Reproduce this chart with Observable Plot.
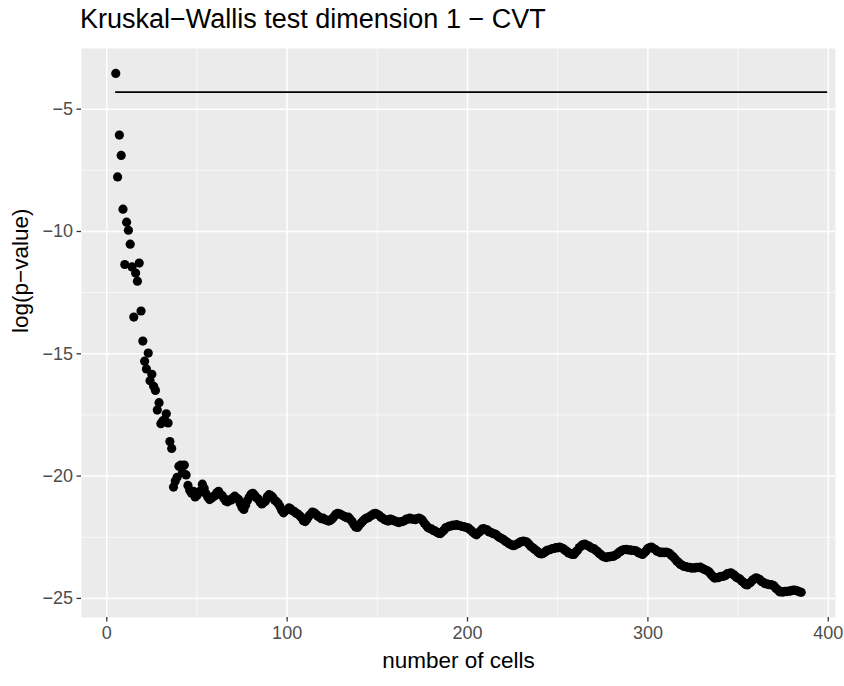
<!DOCTYPE html>
<html>
<head>
<meta charset="utf-8">
<script src="https://cdn.jsdelivr.net/npm/d3@7"></script>
<script src="https://cdn.jsdelivr.net/npm/@observablehq/plot@0.6"></script>
<style>
  html, body { margin: 0; padding: 0; background: #ffffff; }
  #title { height: 40px; box-sizing: border-box; padding-left: 80px; padding-top: 4px;
           font-family: "Liberation Sans", Arial, sans-serif; font-size: 27px; color: #000; line-height: 31px; white-space: nowrap; }
  #chart svg { display: block; }
</style>
</head>
<body>
<div id="title"></div>
<div id="chart"></div>
<script>
const titleText = "Kruskal−Wallis test dimension 1 − CVT";
const xLabel = "number of cells";
const yLabel = "log(p−value)";

const cells = [
  5, 6, 7, 8, 9, 10, 11, 12, 13, 14,
  15, 16, 17, 18, 19, 20, 21, 22, 23, 24,
  25, 26, 27, 28, 29, 30, 31, 32, 33, 34,
  35, 36, 37, 38, 39, 40, 41, 42, 43, 44,
  45, 46, 47, 48, 49, 50, 51, 52, 53, 54,
  55, 56, 57, 58, 59, 60, 61, 62, 63, 64,
  65, 66, 67, 68, 69, 70, 71, 72, 73, 74,
  75, 76, 77, 78, 79, 80, 81, 82, 83, 84,
  85, 86, 87, 88, 89, 90, 91, 92, 93, 94,
  95, 96, 97, 98, 99, 100, 101, 102, 103, 104,
  105, 106, 107, 108, 109, 110, 111, 112, 113, 114,
  115, 116, 117, 118, 119, 120, 121, 122, 123, 124,
  125, 126, 127, 128, 129, 130, 131, 132, 133, 134,
  135, 136, 137, 138, 139, 140, 141, 142, 143, 144,
  145, 146, 147, 148, 149, 150, 151, 152, 153, 154,
  155, 156, 157, 158, 159, 160, 161, 162, 163, 164,
  165, 166, 167, 168, 169, 170, 171, 172, 173, 174,
  175, 176, 177, 178, 179, 180, 181, 182, 183, 184,
  185, 186, 187, 188, 189, 190, 191, 192, 193, 194,
  195, 196, 197, 198, 199, 200, 201, 202, 203, 204,
  205, 206, 207, 208, 209, 210, 211, 212, 213, 214,
  215, 216, 217, 218, 219, 220, 221, 222, 223, 224,
  225, 226, 227, 228, 229, 230, 231, 232, 233, 234,
  235, 236, 237, 238, 239, 240, 241, 242, 243, 244,
  245, 246, 247, 248, 249, 250, 251, 252, 253, 254,
  255, 256, 257, 258, 259, 260, 261, 262, 263, 264,
  265, 266, 267, 268, 269, 270, 271, 272, 273, 274,
  275, 276, 277, 278, 279, 280, 281, 282, 283, 284,
  285, 286, 287, 288, 289, 290, 291, 292, 293, 294,
  295, 296, 297, 298, 299, 300, 301, 302, 303, 304,
  305, 306, 307, 308, 309, 310, 311, 312, 313, 314,
  315, 316, 317, 318, 319, 320, 321, 322, 323, 324,
  325, 326, 327, 328, 329, 330, 331, 332, 333, 334,
  335, 336, 337, 338, 339, 340, 341, 342, 343, 344,
  345, 346, 347, 348, 349, 350, 351, 352, 353, 354,
  355, 356, 357, 358, 359, 360, 361, 362, 363, 364,
  365, 366, 367, 368, 369, 370, 371, 372, 373, 374,
  375, 376, 377, 378, 379, 380, 381, 382, 383, 384,
  385
];

const logP = [
  -3.54, -7.77, -6.06, -6.89, -9.09, -11.35, -9.62, -9.95, -10.52, -11.45,
  -13.5, -11.7, -12.03, -11.29, -13.25, -14.48, -15.3, -15.62, -14.97, -16.1,
  -15.84, -16.33, -16.5, -17.3, -17.0, -17.86, -17.75, -17.7, -17.45, -17.83,
  -18.59, -18.87, -20.45, -20.2, -20.05, -19.6, -19.55, -19.85, -19.55, -19.95,
  -20.38, -20.58, -20.7, -20.62, -20.85, -20.79, -20.68, -20.6, -20.33, -20.5,
  -20.72, -20.85, -20.96, -20.9, -20.84, -20.8, -20.68, -20.62, -20.74, -20.8,
  -20.92, -21.02, -21.05, -20.97, -20.98, -20.88, -20.82, -20.9, -20.95, -21.12,
  -21.28, -21.36, -21.18, -21.0, -20.86, -20.74, -20.7, -20.78, -20.88, -20.94,
  -21.06, -21.14, -21.08, -21.02, -20.84, -20.76, -20.8, -20.86, -20.98, -21.04,
  -21.12, -21.24, -21.4, -21.5, -21.42, -21.38, -21.3, -21.34, -21.42, -21.45,
  -21.52, -21.55, -21.62, -21.7, -21.82, -21.86, -21.76, -21.64, -21.56, -21.47,
  -21.5, -21.56, -21.64, -21.68, -21.74, -21.72, -21.78, -21.8, -21.84, -21.8,
  -21.74, -21.66, -21.56, -21.52, -21.54, -21.58, -21.62, -21.66, -21.7, -21.68,
  -21.76, -21.86, -21.98, -22.08, -22.1, -22.0, -21.92, -21.84, -21.76, -21.72,
  -21.7, -21.64, -21.6, -21.54, -21.52, -21.56, -21.6, -21.68, -21.72, -21.78,
  -21.8, -21.84, -21.76, -21.77, -21.82, -21.84, -21.88, -21.9, -21.86, -21.86,
  -21.82, -21.76, -21.76, -21.72, -21.75, -21.76, -21.78, -21.74, -21.72, -21.75,
  -21.8, -21.92, -22.0, -22.1, -22.14, -22.16, -22.22, -22.24, -22.3, -22.34,
  -22.35, -22.27, -22.2, -22.1, -22.08, -22.04, -22.04, -22.0, -22.02, -21.98,
  -22.02, -22.03, -22.06, -22.06, -22.1, -22.1, -22.16, -22.22, -22.3, -22.36,
  -22.4, -22.32, -22.26, -22.17, -22.15, -22.19, -22.2, -22.28, -22.3, -22.35,
  -22.36, -22.4, -22.47, -22.52, -22.55, -22.6, -22.66, -22.7, -22.76, -22.8,
  -22.84, -22.84, -22.79, -22.76, -22.7, -22.68, -22.66, -22.68, -22.7, -22.78,
  -22.87, -22.92, -22.98, -23.03, -23.1, -23.16, -23.18, -23.15, -23.1, -23.04,
  -23.02, -23.0, -22.96, -22.96, -22.92, -22.93, -22.9, -22.93, -22.96, -23.03,
  -23.07, -23.14, -23.16, -23.2, -23.2, -23.1, -23.03, -22.92, -22.86, -22.8,
  -22.78, -22.83, -22.85, -22.9, -22.95, -22.96, -23.03, -23.08, -23.16, -23.21,
  -23.28, -23.31, -23.33, -23.29, -23.3, -23.27, -23.28, -23.23, -23.18, -23.11,
  -23.07, -23.02, -23.0, -22.99, -23.02, -23.01, -23.04, -23.04, -23.05, -23.08,
  -23.14, -23.16, -23.2, -23.13, -23.06, -22.96, -22.92, -22.9, -22.96, -22.99,
  -23.07, -23.09, -23.13, -23.11, -23.13, -23.11, -23.13, -23.16, -23.24, -23.3,
  -23.38, -23.47, -23.53, -23.61, -23.64, -23.69, -23.7, -23.73, -23.73, -23.76,
  -23.75, -23.76, -23.73, -23.74, -23.72, -23.77, -23.8, -23.84, -23.87, -23.92,
  -24.02, -24.1, -24.17, -24.15, -24.15, -24.11, -24.1, -24.09, -24.06, -23.99,
  -23.98, -23.95, -24.01, -24.05, -24.13, -24.17, -24.21, -24.29, -24.34, -24.42,
  -24.45, -24.39, -24.34, -24.25, -24.21, -24.16, -24.19, -24.23, -24.31, -24.34,
  -24.4, -24.4, -24.44, -24.43, -24.46, -24.49, -24.59, -24.65, -24.73, -24.73,
  -24.74, -24.71, -24.72, -24.7, -24.7, -24.67, -24.66, -24.67, -24.7, -24.73,
  -24.75
];

// horizontal reference line
const refLineY = -4.3;
const refLineX = [5, 399];

const xTicks = [0, 100, 200, 300, 400];
const xMinor = [50, 150, 250, 350];
const yTicks = [-25, -20, -15, -10, -5];
const yMinor = [-22.5, -17.5, -12.5, -7.5];

document.getElementById("title").textContent = titleText;

const data = cells.map((c, i) => ({cells: c, logP: logP[i]}));
const refData = refLineX.map(x => ({x, y: refLineY}));

const fmt = d3.format("d");
const font = "'Liberation Sans', Arial, sans-serif";

const plot = Plot.plot({
  width: 844,
  height: 646,
  marginTop: 8,
  marginBottom: 69,
  marginLeft: 81,
  marginRight: 9,
  style: {fontFamily: font, background: "#ffffff"},
  x: {domain: [-14, 404]},
  y: {domain: [-25.78, -2.52]},
  marks: [
    Plot.frame({fill: "#EBEBEB", stroke: null}),
    Plot.gridX(xMinor, {stroke: "#ffffff", strokeOpacity: 1, strokeWidth: 0.7}),
    Plot.gridY(yMinor, {stroke: "#ffffff", strokeOpacity: 1, strokeWidth: 0.7}),
    Plot.gridX(xTicks, {stroke: "#ffffff", strokeOpacity: 1, strokeWidth: 1.5}),
    Plot.gridY(yTicks, {stroke: "#ffffff", strokeOpacity: 1, strokeWidth: 1.5}),
    Plot.axisX({ticks: xTicks, tickFormat: fmt, tickSize: 4.5, tickPadding: 4, stroke: "#333333", strokeWidth: 1.3, fill: "#4D4D4D", fontSize: 18, label: null}),
    Plot.axisY({ticks: yTicks, tickFormat: fmt, tickSize: 4.5, tickPadding: 4, stroke: "#333333", strokeWidth: 1.3, fill: "#4D4D4D", fontSize: 18, label: null}),
    Plot.text([xLabel], {frameAnchor: "bottom", dy: 50, fontSize: 22.5, fill: "#000"}),
    Plot.text([yLabel], {frameAnchor: "left", dx: -61, rotate: -90, fontSize: 22.5, fill: "#000"}),
    Plot.line(refData, {x: "x", y: "y", stroke: "#000", strokeWidth: 1.8}),
    Plot.dot(data, {x: "cells", y: "logP", r: 4.6, fill: "#000", stroke: null})
  ]
});
document.getElementById("chart").appendChild(plot);
</script>
</body>
</html>
